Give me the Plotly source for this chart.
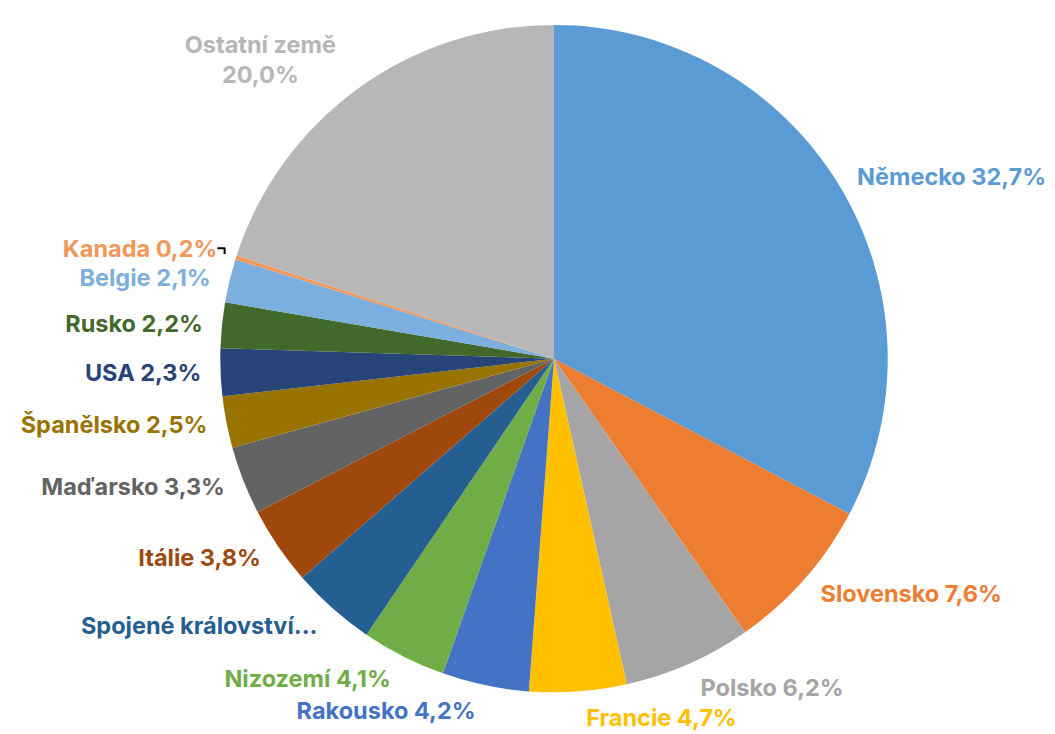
import plotly.graph_objects as go

countries = ["Německo", "Slovensko", "Polsko", "Francie", "Rakousko", "Nizozemí",
             "Spojené království", "Itálie", "Maďarsko", "Španělsko", "USA", "Rusko",
             "Belgie", "Kanada", "Ostatní země"]
shares = [32.7, 7.6, 6.2, 4.7, 4.2, 4.1, 4.1, 3.8, 3.3, 2.5, 2.3, 2.2, 2.1, 0.2, 20.0]
colors = ["#5B9BD5", "#ED7D31", "#A5A5A5", "#FFC000", "#4472C4", "#70AD47",
          "#255E91", "#9E480E", "#636363", "#997300", "#264478", "#43682B",
          "#7CAFDD", "#F1975A", "#B7B7B7"]

def fmt(v):
    return f"{v:.1f}".replace(".", ",") + "%"

labels_text = []
for c, v in zip(countries, shares):
    if c == "Spojené království":
        labels_text.append("Spojené království...")
    elif c == "Ostatní země":
        labels_text.append(f"{c}<br>{fmt(v)}")
    else:
        labels_text.append(f"{c} {fmt(v)}")

W, H = 1055, 734
OFF = 8  # default page body margin
cx, cy, r = 554 - OFF, 356 - OFF, 336
r_lab = 348  # radius of the invisible label-carrying pie


def dom(rad):
    return dict(x=[max(0, (cx - rad) / W), min(1, (cx + rad) / W)],
                y=[max(0, (H - cy - rad) / H), min(1, (H - cy + rad) / H)])


fig = go.Figure()

# invisible pie carrying the outside labels (slightly larger, to add a gap)
fig.add_trace(go.Pie(
    labels=countries,
    values=shares,
    text=labels_text,
    textinfo="text",
    textposition="outside",
    sort=False,
    direction="clockwise",
    rotation=0,
    marker=dict(colors=["rgba(0,0,0,0)"] * len(colors), line=dict(width=0)),
    outsidetextfont=dict(family="Inter", size=23.5, color=colors, weight="bold"),
    showlegend=False,
    hoverinfo="skip",
    domain=dom(r_lab),
))

# visible pie
fig.add_trace(go.Pie(
    labels=countries,
    values=shares,
    textinfo="none",
    sort=False,
    direction="clockwise",
    rotation=0,
    marker=dict(colors=colors, line=dict(width=0)),
    showlegend=False,
    hoverinfo="label+value",
    domain=dom(r),
))

fig.update_layout(
    width=W, height=H,
    margin=dict(l=0, r=0, t=0, b=0),
    paper_bgcolor="white",
    font=dict(family="Inter"),
)

fig.write_html("out.html", config={"displayModeBar": False})
